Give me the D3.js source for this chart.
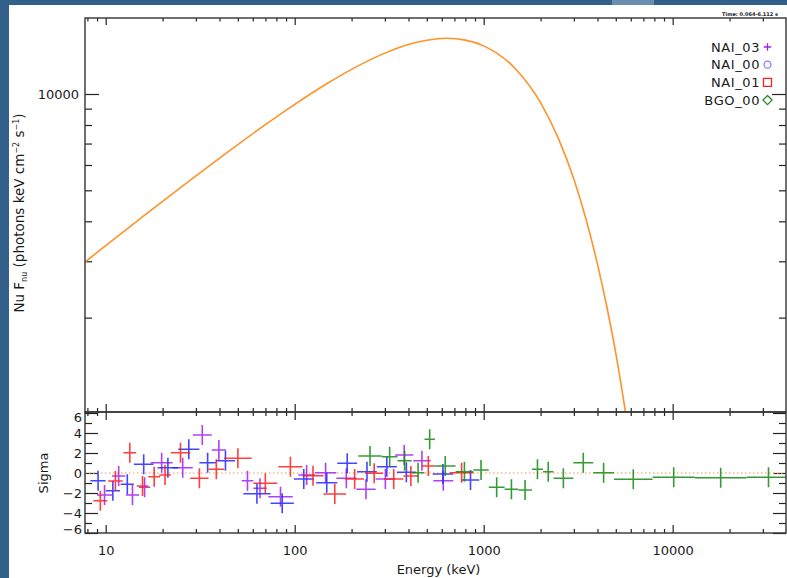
<!DOCTYPE html>
<html>
<head>
<meta charset="utf-8">
<script src="https://cdn.jsdelivr.net/npm/d3@7"></script>
<style>
    html, body { margin: 0; padding: 0; background: #32608a; }
    svg { display: block; }
    text { font-family: "DejaVu Sans", sans-serif; fill: #1a1a1a; }
</style>
</head>
<body>
<script>
// model curve (keV, photons keV cm^-2 s^-1)
var modelEnergy = [7.8, 10, 15, 20, 30, 50, 70, 100, 150, 200, 300, 400, 500, 640, 800,
                   1000, 1500, 2000, 2500, 3000, 3500, 4000, 4500, 5000, 5500, 6000];
var modelFlux = [2990, 3360, 4050, 4620, 5545, 6950, 8020, 9280, 10820, 11940, 13420, 14280, 14730, 14930, 14740,
                 14140, 11850, 9400, 7200, 5420, 4010, 2940, 2140, 1550, 1105, 790];

// residual bins: [E low, E high, sigma]
var nai03 = [
    [9.0, 10.8, -2.2], [10.8, 12.7, -0.3], [12.8, 15.0, -2.2], [15.0, 17.2, -1.43],
    [17.3, 22.6, 1.03], [22.6, 28.9, 0.53], [28.9, 36.4, 3.8], [36.4, 43.3, 2.3],
    [52.4, 60.4, -0.77], [60.4, 71.1, -1.53], [72.5, 97.6, -2.37], [104.5, 128, -0.2],
    [128, 166, 0.03], [166, 212, -0.53], [212, 268, -1.63], [268, 340, -0.6],
    [340, 424, 1.8], [424, 524, 1.23], [541, 690, -0.77]
];
var nai00 = [
    [8.3, 10.0, -0.77], [10.0, 11.9, -1.77], [12.0, 14.1, -1.13], [14.1, 17.9, 0.87],
    [18.8, 24.2, 0.53], [24.2, 31.3, 2.37], [31.3, 38.3, 1.03], [38.3, 48.3, 1.23],
    [53.5, 74.5, -2.07], [74.5, 99, -3.03], [99, 126, -0.6], [130, 168, -0.97],
    [168, 214, 0.97], [214, 272, 0.13], [272, 347, 0.63], [347, 438, 0.07],
    [537, 690, -0.1], [765, 948, -0.7]
];
var nai01 = [
    [8.6, 10.2, -2.77], [10.3, 12.3, -0.8], [12.4, 14.5, 2.03], [14.6, 16.8, -1.3],
    [16.8, 19.4, -0.37], [19.2, 22.1, -0.2], [22.1, 28.0, 2.03], [28.0, 35.0, -0.53],
    [35.0, 42.3, 0.37], [42.3, 59.2, 1.47], [60.4, 80.9, -1.03], [81.9, 110, 0.63],
    [110, 142, -0.27], [142, 187, -2.1], [185, 233, -0.6], [236, 294, -0.03],
    [297, 376, -0.6], [376, 451, -0.3], [470, 552, 0.7], [663, 881, 0.03]
];
var bgo00 = [
    [217, 289, 1.7], [289, 350, 1.63], [350, 416, 1.23], [416, 486, 0.03],
    [486, 552, 3.37], [552, 710, 0.7], [710, 881, 0.13], [881, 1064, 0.3],
    [1064, 1290, -1.43], [1290, 1524, -1.63], [1524, 1800, -1.7], [1800, 2060, 0.37],
    [2060, 2340, 0.13], [2340, 2980, -0.53], [2980, 3800, 1.03], [3800, 4890, 0.03],
    [4890, 7830, -0.63], [7830, 13100, -0.43], [13100, 24600, -0.47], [24600, 42000, -0.43]
];

var legendNames = ['NAI_03', 'NAI_00', 'NAI_01', 'BGO_00'];
var xMajorTicks = [10, 100, 1000, 10000];
var xMinorTicks = [8, 9, 20, 30, 40, 50, 60, 70, 80, 90, 200, 300, 400, 500, 600, 700, 800, 900,
                   2000, 3000, 4000, 5000, 6000, 7000, 8000, 9000, 20000, 30000];
var yMajorTicks = [10000];
var yMinorTicks = [2000, 3000, 4000, 5000, 6000, 7000, 8000, 9000];
var sigMajorTicks = [-6, -4, -2, 0, 2, 4, 6];
var sigMinorTicks = [-5, -3, -1, 1, 3, 5];

var W = 787, H = 578,
    L = 85, R = 786, T = 18, M = 412, B = 533,
    colors = ['#a020f0', '#2424ff', '#ff1c1c', '#138a13'],
    svg = d3.select('body').append('svg').attr('width', W).attr('height', H),
    x = d3.scaleLog().domain([7.77, 39780]).range([L, R]),
    yMain = d3.scaleLog().domain([1014, 17280]).range([M, T]),
    ySig = d3.scaleLinear().domain([-6, 6.1]).range([B, M]);

// window backdrop
svg.append('rect').attr('width', W).attr('height', H).attr('fill', '#32608a');
svg.append('rect').attr('x', 612).attr('width', 42).attr('height', 5).attr('fill', '#6b8db0');
svg.append('rect').attr('x', 9).attr('y', 5).attr('width', W - 9).attr('height', H - 5).attr('fill', '#fff');

var defs = svg.append('defs');
defs.append('clipPath').attr('id', 'clipMain')
    .append('rect').attr('x', L).attr('y', T).attr('width', R - L).attr('height', M - T);
defs.append('clipPath').attr('id', 'clipSig')
    .append('rect').attr('x', L).attr('y', M).attr('width', R - L).attr('height', B - M);

function styleAxis(g) {
    g.select('.domain').remove();
    g.attr('font-size', 13)
        .attr('font-family', '"DejaVu Sans", sans-serif')
        .style('color', '#222');
    g.selectAll('.tick line').attr('stroke-width', 1.2);
    g.selectAll('.tick text').attr('fill', '#1a1a1a');
}

function addAxis(axis, vals, size, tx, ty, fmt, pad) {
    return svg.append('g')
        .attr('transform', 'translate(' + tx + ',' + ty + ')')
        .call(axis.tickValues(vals).tickSize(size).tickPadding(pad || 3).tickFormat(fmt || ''))
        .call(styleAxis);
}

// energy ticks on every horizontal edge
addAxis(d3.axisTop(x), xMajorTicks, -7, 0, T);
addAxis(d3.axisTop(x), xMinorTicks, -3.5, 0, T);
addAxis(d3.axisBottom(x), xMajorTicks, -8, 0, M);
addAxis(d3.axisBottom(x), xMinorTicks, -4, 0, M);
addAxis(d3.axisTop(x), xMajorTicks, -8, 0, M);
addAxis(d3.axisTop(x), xMinorTicks, -4, 0, M);
addAxis(d3.axisBottom(x), xMajorTicks, -8, 0, B, d3.format('d'), 13);
addAxis(d3.axisBottom(x), xMinorTicks, -4, 0, B);

// flux ticks
addAxis(d3.axisLeft(yMain), yMajorTicks, -14, L, 0, d3.format('d'), 6);
addAxis(d3.axisLeft(yMain), yMinorTicks, -7, L, 0);
addAxis(d3.axisRight(yMain), yMajorTicks, -14, R, 0);
addAxis(d3.axisRight(yMain), yMinorTicks, -7, R, 0);

// sigma ticks
var sigLeft = addAxis(d3.axisLeft(ySig), sigMajorTicks, -13, L, 0, d3.format('d'), 3);
addAxis(d3.axisLeft(ySig), sigMinorTicks, -7, L, 0);
addAxis(d3.axisRight(ySig), sigMajorTicks, -13, R, 0);
addAxis(d3.axisRight(ySig), sigMinorTicks, -7, R, 0);
sigLeft.selectAll('.tick text')
    .attr('y', function(d) { return d === 6 ? 4.5 : (d === -6 ? -4 : 0); });

// zero line
svg.append('line')
    .attr('x1', L).attr('x2', R)
    .attr('y1', ySig(0)).attr('y2', ySig(0))
    .attr('stroke', '#f6b98a')
    .attr('stroke-width', 1.3)
    .attr('stroke-dasharray', '1.5,2.5');

// model
var line = d3.line()
    .x(function(d) { return x(d[0]); })
    .y(function(d) { return yMain(d[1]); })
    .curve(d3.curveMonotoneX);

svg.append('path')
    .datum(modelEnergy.map(function(e, i) { return [e, modelFlux[i]]; }))
    .attr('clip-path', 'url(#clipMain)')
    .attr('d', line)
    .attr('fill', 'none')
    .attr('stroke', '#ff9228')
    .attr('stroke-width', 1.6);

// residual crosses
var sets = [nai03, nai00, nai01, bgo00];
var resid = svg.append('g').attr('clip-path', 'url(#clipSig)');

sets.forEach(function(bins, k) {
    resid.append('g')
        .selectAll('path')
        .data(bins)
        .enter()
        .append('path')
        .attr('d', function(d) {
            var x1 = x(d[0]), x2 = x(d[1]), xm = x(Math.sqrt(d[0] * d[1])),
                y = ySig(d[2]);
            return 'M' + x1 + ' ' + y + 'L' + x2 + ' ' + y +
                'M' + xm + ' ' + ySig(d[2] - 1) + 'L' + xm + ' ' + ySig(d[2] + 1);
        })
        .attr('fill', 'none')
        .attr('stroke', colors[k])
        .attr('stroke-width', 1.6)
        .attr('stroke-opacity', 0.85);
});

// frames
[[T, M], [M, B]].forEach(function(p) {
    svg.append('rect')
        .attr('x', L).attr('y', p[0])
        .attr('width', R - L).attr('height', p[1] - p[0])
        .attr('fill', 'none')
        .attr('stroke', '#333')
        .attr('stroke-width', 1.4);
});

// axis titles
svg.append('text')
    .attr('x', (L + R) / 2 + 3).attr('y', 574)
    .attr('text-anchor', 'middle')
    .attr('font-size', 13)
    .text('Energy (keV)');

svg.append('text')
    .attr('transform', 'translate(48,' + ySig(0) + ') rotate(-90)')
    .attr('text-anchor', 'middle')
    .attr('font-size', 13)
    .text('Sigma');

var ylab = svg.append('text')
    .attr('transform', 'translate(24,' + ((T + M) / 2 - 2) + ') rotate(-90)')
    .attr('text-anchor', 'middle')
    .attr('font-size', 13.5);
ylab.append('tspan').text('Nu F');
ylab.append('tspan').attr('font-size', 8).attr('dy', 3).text('nu');
ylab.append('tspan').attr('dy', -3).text(' (photons keV cm');
ylab.append('tspan').attr('font-size', 8).attr('dy', -5).text('\u22122');
ylab.append('tspan').attr('dy', 5).text(' s');
ylab.append('tspan').attr('font-size', 8).attr('dy', -5).text('\u22121');
ylab.append('tspan').attr('dy', 5).text(')');

// legend
var symbols = [d3.symbolPlus, d3.symbolCircle, d3.symbolSquare2, d3.symbolDiamond2],
    symSizes = [20, 38, 82, 52],
    symColors = ['#a020f0', '#8a7bff', '#ff2020', '#1a8c1a'];

var legend = svg.append('g')
    .selectAll('g')
    .data(legendNames)
    .enter()
    .append('g')
    .attr('transform', function(d, i) { return 'translate(0,' + (47 + i * 17.7) + ')'; });

legend.append('text')
    .attr('x', 760).attr('y', 4.5)
    .attr('text-anchor', 'end')
    .attr('font-size', 13)
    .attr('letter-spacing', 0.6)
    .text(function(d) { return d; });

legend.append('path')
    .attr('transform', 'translate(767.5,0)')
    .attr('d', function(d, i) { return d3.symbol(symbols[i], symSizes[i])(); })
    .attr('fill', 'none')
    .attr('stroke', function(d, i) { return symColors[i]; })
    .attr('stroke-width', 1.3);

// time range note
svg.append('text')
    .attr('x', 778).attr('y', 16)
    .attr('text-anchor', 'end')
    .attr('font-size', 5)
    .attr('font-weight', 'bold')
    .text('Time: 0.064-6.112 s');
</script>
</body>
</html>
